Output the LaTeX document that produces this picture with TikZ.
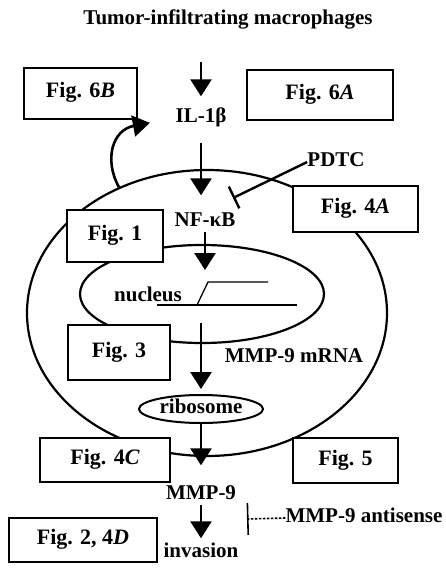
\documentclass[tikz,border=0pt]{standalone}
\usepackage{fontspec}
\setmainfont{Liberation Serif}
\usetikzlibrary{shapes.geometric, arrows.meta, positioning}

\begin{document}
\begin{tikzpicture}[
    x=1pt, y=-1pt,
    every node/.style={font=\fontsize{21}{24}\selectfont\bfseries, align=center, inner sep=0pt, text height=14pt, text depth=5pt},
    figbox/.style={rectangle, draw, fill=white, line width=1.8pt, font=\fontsize{22}{24}\selectfont\bfseries},
    compartment/.style={ellipse, draw, line width=2.2pt},
    arrow/.style={-{Triangle[length=17pt, width=21pt]}, line width=2.6pt},
    inhib/.style={-{Bar[width=24pt]}, line width=2.4pt},
    asinhib/.style={-{Bar[width=32pt]}, line width=1.6pt, dash pattern=on 2.5pt off 1.5pt},
    gene/.style={line width=1.3pt}
]
    \useasboundingbox (0,0) rectangle (445,572);

    % Cell and nucleus
    \node[compartment, minimum width=360pt, minimum height=286pt] (cell) at (207,313) {};
    \node[compartment, minimum width=244pt, minimum height=98pt] (nuc) at (202,294) {};
    \node (nucl) at (148,297) {nucleus};
    \draw[gene] (157,305) -- (297,305);
    \draw[gene] (197,305) -- (208,282) -- (268,282);

    % Pathway
    \node (title) at (228,20) {Tumor-infiltrating macrophages};
    \node (il) at (201,118) {IL-1β};
    \node (nfkb) at (205,222) {NF-κB};
    \node (mrna) at (294,358) {MMP-9 mRNA};
    \node[compartment, line width=2pt, minimum width=124pt, minimum height=28pt] (ribo) at (201,409) {ribosome};
    \node (mmp) at (201,495) {MMP-9};
    \node (inv) at (201,553) {invasion};

    % Inhibitors
    \node (pdtc) at (336,162) {PDTC};
    \node (anti) at (364,518) {MMP-9 antisense};
    \coordinate (blk) at (233,198);
    \coordinate (asb) at (247,519);

    % Figure boxes
    \node[figbox, minimum width=113pt, minimum height=51pt] (f6b) at (80.5,93.5) {Fig. 6\textit{B}};
    \node[figbox, minimum width=146pt, minimum height=50pt] (f6a) at (320,95) {Fig. 6\textit{A}};
    \node[figbox, minimum width=125pt, minimum height=46pt] (f4a) at (355.5,209) {Fig. 4\textit{A}};
    \node[figbox, minimum width=96pt, minimum height=52pt] (f1) at (115,236) {Fig. 1};
    \node[figbox, minimum width=102pt, minimum height=55pt] (f3) at (119,352.5) {Fig. 3};
    \node[figbox, minimum width=130pt, minimum height=44pt] (f4c) at (105,460) {Fig. 4\textit{C}};
    \node[figbox, minimum width=105pt, minimum height=45pt] (f5) at (345.5,460.5) {Fig. 5};
    \node[figbox, minimum width=148pt, minimum height=44pt] (f24d) at (83,540) {Fig. 2, 4\textit{D}};

    % Arrows
    \draw[arrow, shorten <=32pt, shorten >=12pt] (title.south -| il) -- (il.north);
    \draw[arrow, shorten <=15pt, shorten >=17pt] (il.south) -- (il.south |- nfkb.north);
    \draw[arrow, shorten >=24pt] (nfkb.south) -- (nfkb.south |- nuc.center);
    \draw[arrow, shorten <=29pt, shorten >=5pt] (nuc.center -| ribo.north) -- (ribo.north);
    \draw[arrow, shorten >=20pt] (ribo.south) -- (mmp.north);
    \draw[arrow, shorten >=5pt] (mmp.south) -- (inv.north);
    \draw[arrow, shorten >=26pt] (cell.125) .. controls (104,160) and (112,130) .. (il.west);

    % Blocks
    \draw[inhib] (pdtc.west) -- (blk);
    \draw[asinhib] (anti.west) -- (asb);

\end{tikzpicture}
\end{document}
